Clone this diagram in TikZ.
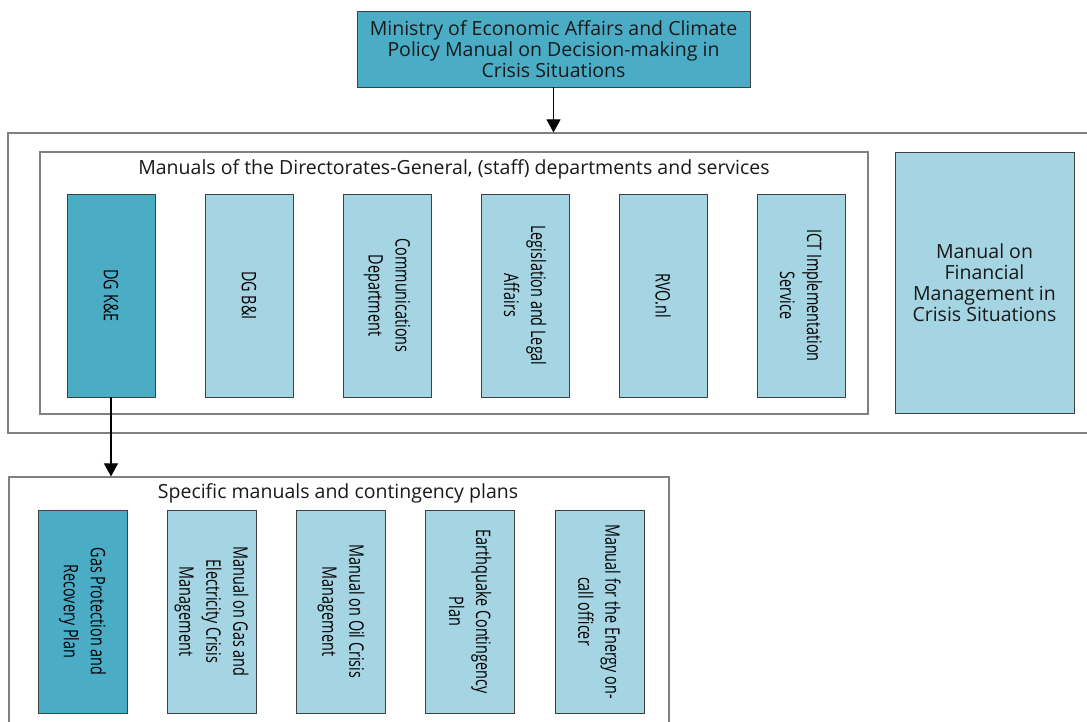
\documentclass[tikz,border=0pt]{standalone}
\usepackage{fontspec}
\setmainfont{Open Sans}
\usetikzlibrary{arrows.meta}
\definecolor{tealdark}{HTML}{4BACC6}
\definecolor{teallight}{HTML}{A5D5E2}
\definecolor{boxline}{HTML}{404040}
\definecolor{frameline}{HTML}{808080}
\newcommand{\hfontsel}{\fontsize{19.5}{21}\selectfont}
\newcommand{\vfontsel}{\fontsize{20}{27}\selectfont}
\begin{document}
\begin{tikzpicture}[x=1pt,y=-1pt,
  dark/.style={draw=boxline, fill=tealdark, line width=0.9pt, inner sep=0pt},
  light/.style={draw=boxline, fill=teallight, line width=0.9pt, inner sep=0pt},
  frame/.style={draw=frameline, line width=1.2pt, inner sep=0pt},
  vtext/.style={rotate=-90, xscale=0.72, align=center, font=\vfontsel, text=black, inner sep=0pt},
  htext/.style={align=center, font=\hfontsel, text=black!90, inner sep=0pt},
  conn/.style={draw=black, line width=1.1pt, -{Triangle[width=14pt,length=13pt]}}
]
\useasboundingbox (0,0) rectangle (1087,722);
\clip (0,0) rectangle (1087,722);
\fill[white] (0,0) rectangle (1087,722);

% top box
\node[dark, minimum width=393pt, minimum height=76pt] (top) at (553.5,49) {};
\node[htext] (toptxt) at (top.center) {Ministry of Economic Affairs and Climate\\Policy Manual on Decision-making in\\Crisis Situations};

% outer frame 1
\node[frame, minimum width=1092pt, minimum height=300pt] (outerA) at (554,283) {};
% inner frame
\node[frame, minimum width=828pt, minimum height=262pt] (inner) at (454,283) {};
\node[htext] (innertitle) at (454,169) {Manuals of the Directorates-General, (staff) departments and services};

% row 1 boxes
\node[dark, minimum width=88pt, minimum height=203pt] (kne) at (111,295.5) {};
\node[vtext] at (kne.center) {DG K\&E};
\node[light, minimum width=88pt, minimum height=203pt] (bni) at (249,295.5) {};
\node[vtext] at (bni.center) {DG B\&I};
\node[light, minimum width=88pt, minimum height=203pt] (comm) at (387,295.5) {};
\node[vtext] at (comm.center) {Communications\\Department};
\node[light, minimum width=88pt, minimum height=203pt] (legal) at (525,295.5) {};
\node[vtext] at (legal.center) {Legislation and Legal\\Affairs};
\node[light, minimum width=88pt, minimum height=203pt] (rvo) at (663,295.5) {};
\node[vtext] at (rvo.center) {RVO.nl};
\node[light, minimum width=88pt, minimum height=203pt] (ict) at (801,295.5) {};
\node[vtext] at (ict.center) {ICT Implementation\\Service};

% financial
\node[light, minimum width=179pt, minimum height=261pt] (fin) at (984.5,282.5) {};
\node[htext] at (fin.center) {Manual on\\Financial\\Management in\\Crisis Situations};

% outer frame 2
\node[frame, minimum width=660pt, minimum height=263pt] (outerB) at (339,608.5) {};
\node[htext] (outertitle) at (338,493) {Specific manuals and contingency plans};

% row 2 boxes
\node[dark, minimum width=89pt, minimum height=203pt] (gas) at (82.5,611.5) {};
\node[vtext] at (gas.center) {Gas Protection and\\Recovery Plan};
\node[light, minimum width=89pt, minimum height=203pt] (gne) at (211.5,611.5) {};
\node[vtext] at (gne.center) {Manual on Gas and\\Electricity Crisis\\Management};
\node[light, minimum width=89pt, minimum height=203pt] (oil) at (341,611.5) {};
\node[vtext] at (oil.center) {Manual on Oil Crisis\\Management};
\node[light, minimum width=89pt, minimum height=203pt] (quake) at (470,611.5) {};
\node[vtext] at (quake.center) {Earthquake Contingency\\Plan};
\node[light, minimum width=89pt, minimum height=203pt] (oncall) at (599.5,611.5) {};
\node[vtext] at (oncall.center) {Manual for the Energy on-\\call officer};

% connectors
\draw[conn] (top.south) -- (top.south |- outerA.north);
\draw[conn] (kne.south) -- (kne.south |- outerB.north);
\end{tikzpicture}
\end{document}
